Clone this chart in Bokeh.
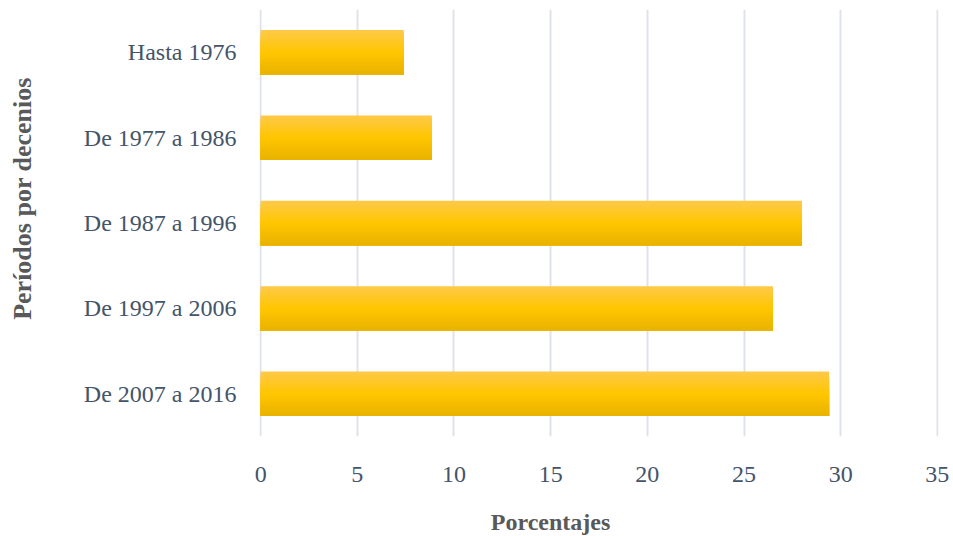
import math
from bokeh.plotting import figure
from bokeh.layouts import row, column
from bokeh.models import ColumnDataSource, FactorRange, Range1d, FixedTicker
from bokeh.core.properties import value
from bokeh.transform import dodge
from bokeh.embed import file_html
from bokeh.resources import INLINE

# ---- data ----
periodos = ["Hasta 1976", "De 1977 a 1986", "De 1987 a 1996", "De 1997 a 2006", "De 2007 a 2016"]
porcentajes = [7.4, 8.85, 28.0, 26.5, 29.4]
x_ticks = [0, 5, 10, 15, 20, 25, 30, 35]
x_title = "Porcentajes"
y_title = "Períodos por decenios"

FONT = "Liberation Serif"
TICK_COLOR = "#44546A"
TITLE_COLOR = "#595959"

LEFT_W = 42
MAIN_W = 953 - LEFT_W
MAIN_H = 500
BOTTOM_H = 536 - MAIN_H
FRAME_L = 259
FRAME_R = 953 - 15


def blank_fig(w, h, xr):
    f = figure(width=w, height=h, output_backend="svg", toolbar_location=None,
               x_range=Range1d(0, xr), y_range=Range1d(h, 0),
               x_axis_location=None, y_axis_location=None,
               min_border=0, min_border_left=0, min_border_right=0,
               min_border_top=0, min_border_bottom=0)
    f.outline_line_color = None
    f.grid.visible = False
    f.background_fill_color = "white"
    f.border_fill_color = "white"
    return f


# ---- main chart ----
p = figure(width=MAIN_W, height=MAIN_H, output_backend="svg", toolbar_location=None,
           y_range=FactorRange(factors=list(reversed(periodos)), range_padding=0),
           x_range=Range1d(-0.06, 35.06),
           min_border_left=FRAME_L - LEFT_W, min_border_right=15, min_border_top=9,
           min_border_bottom=MAIN_H - 436)
p.outline_line_color = None
p.background_fill_color = "white"
p.border_fill_color = "white"

src = ColumnDataSource(dict(cat=periodos, val=porcentajes))

# gradient bars (stacked slices top->bottom)
BAR_H = 0.52
N = 20
top_c = (255, 201, 74)
mid_c = (255, 198, 0)
bot_c = (232, 178, 0)


def lerp(a, b, t):
    return tuple(int(round(a[k] + (b[k] - a[k]) * t)) for k in range(3))


for i in range(N):
    t = (i + 0.5) / N
    c = lerp(top_c, mid_c, t / 0.5) if t < 0.5 else lerp(mid_c, bot_c, (t - 0.5) / 0.5)
    color = "#%02x%02x%02x" % c
    top = BAR_H / 2 - i * BAR_H / N
    bottom = -BAR_H / 2
    h = top - bottom
    center = (top + bottom) / 2
    p.hbar(y=dodge("cat", center, range=p.y_range), left=0, right="val", height=h,
           source=src, fill_color=color, line_color=None)

# grid
p.ygrid.grid_line_color = None
p.xgrid.grid_line_color = "#DEE3E9"
p.xgrid.grid_line_width = 2
p.xgrid.level = "underlay"

# axes
p.xaxis.ticker = FixedTicker(ticks=x_ticks)
for ax in (p.xaxis[0], p.yaxis[0]):
    ax.axis_line_color = None
    ax.major_tick_line_color = None
    ax.minor_tick_line_color = None
    ax.major_label_text_font = FONT
    ax.major_label_text_font_size = "24px"
    ax.major_label_text_color = TICK_COLOR
p.xaxis.major_label_standoff = 24
p.yaxis.major_label_standoff = 17

# ---- axis titles ----
yt = blank_fig(LEFT_W, 536, LEFT_W)
yt.text(x=[22], y=[198], text=[y_title], angle=math.pi / 2,
        text_align="center", text_baseline="middle",
        text_font=value(FONT), text_font_size=value("26px"), text_font_style="bold",
        text_color=TITLE_COLOR)

# the bottom strip's frame is aligned with the main frame by the layout
xt = blank_fig(MAIN_W, BOTTOM_H, FRAME_R - FRAME_L)
xt.text(x=[550 - FRAME_L], y=[521 - MAIN_H], text=[x_title],
        text_align="center", text_baseline="middle",
        text_font=value(FONT), text_font_size=value("24px"), text_font_style="bold",
        text_color=TITLE_COLOR)

layout = row(yt, column(p, xt, spacing=0), spacing=0)

open("out.html", "w").write(file_html(layout, INLINE))
